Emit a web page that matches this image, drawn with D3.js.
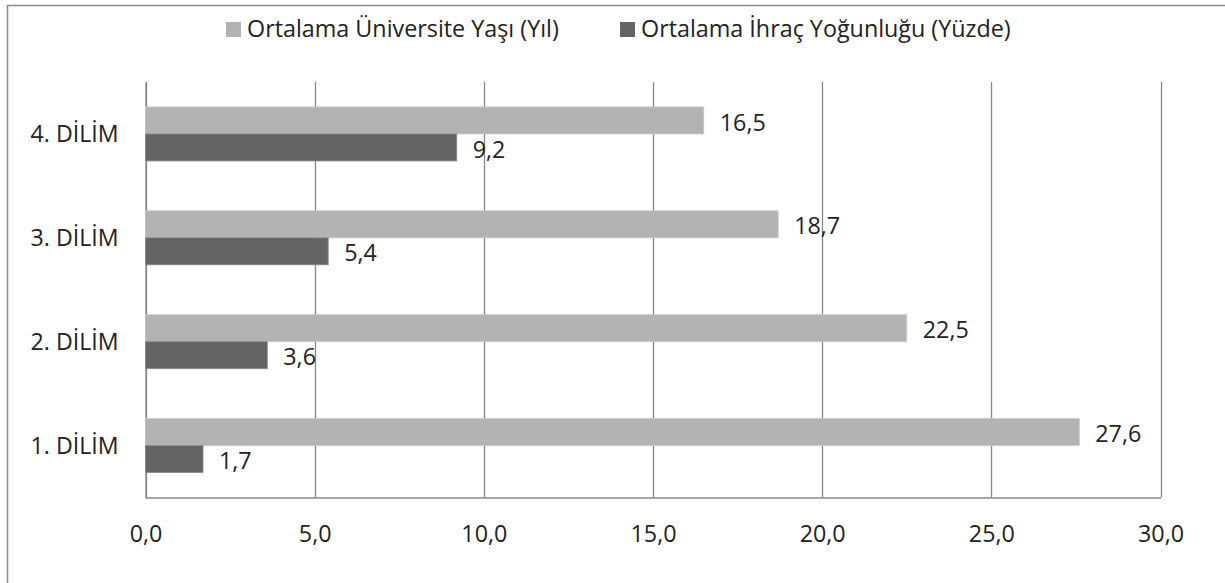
<!DOCTYPE html>
<html>
<head>
<meta charset="utf-8">
<script src="https://cdn.jsdelivr.net/npm/d3@7"></script>
<style>
  html, body { margin: 0; padding: 0; background: #fff; }
  svg { display: block; }
</style>
</head>
<body>
<div id="chart"></div>
<script>
const categories = ['4. DİLİM', '3. DİLİM', '2. DİLİM', '1. DİLİM'];
const seriesNames = ['Ortalama Üniversite Yaşı (Yıl)', 'Ortalama İhraç Yoğunluğu (Yüzde)'];
const universityAge = [16.5, 18.7, 22.5, 27.6];
const exportIntensity = [9.2, 5.4, 3.6, 1.7];
const xTicks = [0, 5, 10, 15, 20, 25, 30];

(function () {
const W = 1225, H = 583;
const FONT = '"Open Sans", Lato, sans-serif';
const colors = ['#b3b3b3', '#646464'];
const textCol = '#222222';
const gridCol = '#878787';
const fmt = d => d3.format('.1f')(d).replace('.', ',');

const svg = d3.select('#chart').append('svg').attr('width', W).attr('height', H);

// pick a font size so a sample string hits a measured width
function fitSize(sample, targetW) {
  const t = svg.append('text').attr('font-family', FONT).attr('font-size', 20).text(sample);
  const w = t.node().getComputedTextLength();
  t.remove();
  return 20 * targetW / w;
}
const labelFs = fitSize('4. DİLİM', 88);
const numFs = fitSize('27,6', 46);
const legendFs = fitSize(seriesNames[0], 312);

// outer frame (runs off the right / bottom edge like the original)
svg.append('rect').attr('x', 7.5).attr('y', 5.5).attr('width', W + 20).attr('height', H + 20)
  .attr('fill', 'none').attr('stroke', '#8c8c8c').attr('stroke-width', 1.5);

const padL = 145.5, padR = 1160.5, padT = 82, padB = 497.5;

const x = d3.scaleLinear().domain([0, 30]).range([padL, padR]);
const y = d3.scaleBand().domain(categories).range([padT, padB]).paddingInner(0.48).paddingOuter(0.24);
const ySub = d3.scaleBand().domain([0, 1]).range([0, y.bandwidth()]);

// vertical gridlines
svg.append('g').selectAll('line').data(xTicks).join('line')
  .attr('x1', d => Math.round(x(d)) + 0.5).attr('x2', d => Math.round(x(d)) + 0.5)
  .attr('y1', padT).attr('y2', padB)
  .attr('stroke', gridCol).attr('stroke-width', 1.3);

// bottom axis
const xAxis = svg.append('g').attr('transform', `translate(0,${padB})`)
  .call(d3.axisBottom(x).tickValues(xTicks).tickSize(0).tickPadding(28).tickFormat(fmt));
xAxis.select('.domain').attr('stroke', gridCol).attr('stroke-width', 1.3);
xAxis.selectAll('text').attr('font-family', FONT).attr('font-size', numFs).attr('fill', textCol);

// left axis
const yAxis = svg.append('g').attr('transform', `translate(${padL},0)`)
  .call(d3.axisLeft(y).tickSize(0).tickPadding(27));
yAxis.select('.domain').attr('stroke', gridCol).attr('stroke-width', 1.3);
yAxis.selectAll('text').attr('font-family', FONT).attr('font-size', labelFs).attr('fill', textCol)
  .attr('dy', '0.35em');

const series = [universityAge, exportIntensity];
series.forEach((vals, si) => {
  const g = svg.append('g');
  g.selectAll('rect').data(vals).join('rect')
    .attr('x', x(0)).attr('y', (d, i) => y(categories[i]) + ySub(si))
    .attr('width', d => x(d) - x(0)).attr('height', ySub.bandwidth())
    .attr('fill', colors[si]).attr('stroke', si === 0 ? '#c8c8c8' : '#8a8a8a').attr('stroke-width', 0.8);
  g.selectAll('text').data(vals).join('text')
    .attr('x', d => x(d) + 16)
    .attr('y', (d, i) => y(categories[i]) + ySub(si) + ySub.bandwidth() / 2 + 2)
    .attr('dy', '0.35em')
    .attr('font-family', FONT).attr('font-size', numFs).attr('fill', textCol)
    .text(fmt);
});

// legend
const legendX = [226, 620];
seriesNames.forEach((name, i) => {
  svg.append('rect').attr('x', legendX[i]).attr('y', 22).attr('width', 15).attr('height', 15)
    .attr('fill', colors[i]);
  svg.append('text').attr('x', legendX[i] + 21).attr('y', 29).attr('dy', '0.35em')
    .attr('font-family', FONT).attr('font-size', legendFs).attr('fill', textCol).text(name);
});
})();
</script>
</body>
</html>
